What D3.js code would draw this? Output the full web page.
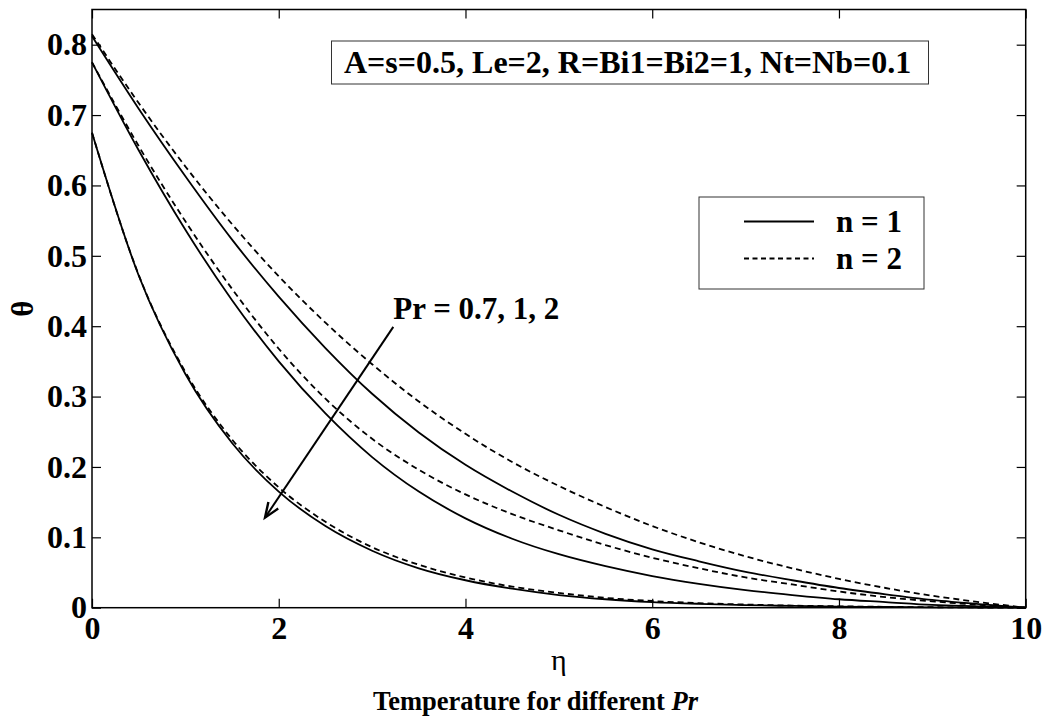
<!DOCTYPE html>
<html>
<head>
<meta charset="utf-8">
<script src="https://cdn.jsdelivr.net/npm/d3@7"></script>
<style>
  html, body { margin: 0; padding: 0; background: #fff; }
  svg text { font-family: "Liberation Serif", "Times New Roman", serif; }
</style>
</head>
<body>
<svg id="chart" width="1046" height="722"></svg>
<script>
// η grid shared by every profile
const eta = [0, 0.5, 1, 1.5, 2, 2.5, 3, 3.5, 4, 4.5, 5, 5.5, 6, 6.5, 7, 7.5, 8, 8.5, 9, 9.5, 10];

// θ(η) profiles, one array per (Pr, n) pair
const thetaPr07n1 = [0.812, 0.709, 0.613, 0.523, 0.442, 0.369, 0.304, 0.249, 0.203, 0.165, 0.132, 0.105, 0.083, 0.066, 0.051, 0.039, 0.028, 0.019, 0.011, 0.005, 0.0];
const thetaPr07n2 = [0.815, 0.717, 0.627, 0.545, 0.471, 0.405, 0.346, 0.293, 0.247, 0.207, 0.173, 0.143, 0.116, 0.093, 0.073, 0.056, 0.041, 0.028, 0.017, 0.008, 0.0];
const thetaPr1n1  = [0.775, 0.650, 0.537, 0.437, 0.350, 0.276, 0.214, 0.165, 0.127, 0.098, 0.076, 0.059, 0.045, 0.034, 0.025, 0.018, 0.012, 0.008, 0.004, 0.002, 0.0];
const thetaPr1n2  = [0.775, 0.656, 0.549, 0.453, 0.368, 0.297, 0.240, 0.196, 0.161, 0.133, 0.110, 0.089, 0.071, 0.056, 0.043, 0.033, 0.023, 0.015, 0.009, 0.004, 0.0];
const thetaPr2n1  = [0.675, 0.472, 0.332, 0.234, 0.165, 0.116, 0.081, 0.056, 0.039, 0.027, 0.018, 0.012, 0.008, 0.0055, 0.0037, 0.0025, 0.0016, 0.001, 0.0005, 0.0002, 0.0];
const thetaPr2n2  = [0.675, 0.473, 0.335, 0.239, 0.171, 0.122, 0.086, 0.061, 0.043, 0.030, 0.021, 0.014, 0.0095, 0.0065, 0.0045, 0.003, 0.002, 0.0012, 0.0007, 0.0003, 0.0];

const seriesNames = ["Pr=0.7, n=1", "Pr=0.7, n=2", "Pr=1, n=1", "Pr=1, n=2", "Pr=2, n=1", "Pr=2, n=2"];
const seriesValues = [thetaPr07n1, thetaPr07n2, thetaPr1n1, thetaPr1n2, thetaPr2n1, thetaPr2n2];
const seriesIndex = [1, 2, 1, 2, 1, 2];

// axis ticks
const xTicks = [0, 2, 4, 6, 8, 10];
const yTicks = [0, 0.1, 0.2, 0.3, 0.4, 0.5, 0.6, 0.7, 0.8];

// legend entries and annotations
const legendLabels = ["n = 1", "n = 2"];
const paramText = "A=s=0.5, Le=2, R=Bi1=Bi2=1, Nt=Nb=0.1";
const arrowLabel = "Pr = 0.7, 1, 2";
const arrowFrom = [3.227, 0.399];
const arrowTo = [1.853, 0.128];
const xLabel = "η";
const yLabel = "θ";
const captionMain = "Temperature for different ";
const captionItalic = "Pr";

// ---- layout ----
const W = 1046, H = 722;
const plot = { left: 92, right: 1025.7, top: 9.5, bottom: 607.7 };
const tickLen = 9;
const fontSize = 32;
const dashPattern = "6,4";

const svg = d3.select("#chart");
svg.append("rect").attr("width", W).attr("height", H).attr("fill", "#fff");

const x = d3.scaleLinear().domain([0, 10]).range([plot.left, plot.right]);
const y = d3.scaleLinear().domain([0, 0.85]).range([plot.bottom, plot.top]);

const fmtY = d => d === 0 ? "0" : d3.format(".1f")(d);

function styleAxis(g) {
  g.select(".domain").remove();
  g.selectAll(".tick line").attr("stroke", "#000").attr("stroke-width", 1.2);
  g.selectAll(".tick text")
    .attr("fill", "#000")
    .attr("font-size", fontSize)
    .attr("font-weight", "bold")
    .attr("font-family", "Liberation Serif, Times New Roman, serif");
}

svg.append("g")
  .attr("transform", `translate(0,${plot.bottom})`)
  .call(d3.axisBottom(x).tickValues(xTicks).tickSizeInner(-tickLen).tickSizeOuter(0).tickPadding(9).tickFormat(d3.format("d")))
  .call(styleAxis);

svg.append("g")
  .attr("transform", `translate(${plot.left},0)`)
  .call(d3.axisLeft(y).tickValues(yTicks).tickSizeInner(-tickLen).tickSizeOuter(0).tickPadding(5).tickFormat(fmtY))
  .call(styleAxis);

svg.append("g")
  .attr("transform", `translate(0,${plot.top})`)
  .call(d3.axisTop(x).tickValues(xTicks).tickSizeInner(-tickLen).tickSizeOuter(0).tickFormat(""))
  .call(styleAxis);

svg.append("g")
  .attr("transform", `translate(${plot.right},0)`)
  .call(d3.axisRight(y).tickValues(yTicks).tickSizeInner(-tickLen).tickSizeOuter(0).tickFormat(""))
  .call(styleAxis);

// plot frame
svg.append("rect")
  .attr("x", plot.left).attr("y", plot.top)
  .attr("width", plot.right - plot.left).attr("height", plot.bottom - plot.top)
  .attr("fill", "none").attr("stroke", "#000").attr("stroke-width", 1.5);

// profiles
const line = d3.line()
  .x((d, i) => x(eta[i]))
  .y(d => y(d))
  .curve(d3.curveMonotoneX);

svg.append("g").selectAll("path")
  .data(seriesValues)
  .join("path")
  .attr("d", d => line(d))
  .attr("fill", "none")
  .attr("stroke", "#000")
  .attr("stroke-width", 1.8)
  .attr("stroke-dasharray", (d, i) => seriesIndex[i] === 2 ? dashPattern : null);

// parameter box
const pbox = { x: 331.5, y: 41, w: 597, h: 43 };
svg.append("rect")
  .attr("x", pbox.x).attr("y", pbox.y).attr("width", pbox.w).attr("height", pbox.h)
  .attr("fill", "#fff").attr("stroke", "#333").attr("stroke-width", 1);
svg.append("text")
  .attr("x", 344).attr("y", 73)
  .attr("font-size", fontSize).attr("font-weight", "bold")
  .text(paramText);

// legend
const lbox = { x: 699, y: 197, w: 225, h: 92 };
svg.append("rect")
  .attr("x", lbox.x).attr("y", lbox.y).attr("width", lbox.w).attr("height", lbox.h)
  .attr("fill", "#fff").attr("stroke", "#333").attr("stroke-width", 1);
const legendRows = [221.5, 258.5];
legendLabels.forEach((lab, i) => {
  svg.append("line")
    .attr("x1", 744).attr("x2", 814)
    .attr("y1", legendRows[i]).attr("y2", legendRows[i])
    .attr("stroke", "#000").attr("stroke-width", 2)
    .attr("stroke-dasharray", i === 1 ? "5,3.5" : null);
  svg.append("text")
    .attr("x", 836).attr("y", legendRows[i] + 10)
    .attr("font-size", 31).attr("font-weight", "bold")
    .text(lab);
});

// Pr arrow
const ax1 = x(arrowFrom[0]), ay1 = y(arrowFrom[1]);
const ax2 = x(arrowTo[0]), ay2 = y(arrowTo[1]);
svg.append("line")
  .attr("x1", ax1).attr("y1", ay1).attr("x2", ax2).attr("y2", ay2)
  .attr("stroke", "#000").attr("stroke-width", 2);
const ang = Math.atan2(ay2 - ay1, ax2 - ax1);
const headLen = 16, headAng = 0.38;
const headPts = [
  [ax2 - headLen * Math.cos(ang - headAng), ay2 - headLen * Math.sin(ang - headAng)],
  [ax2, ay2],
  [ax2 - headLen * Math.cos(ang + headAng), ay2 - headLen * Math.sin(ang + headAng)]
];
svg.append("path")
  .attr("d", d3.line()(headPts))
  .attr("fill", "none").attr("stroke", "#000").attr("stroke-width", 2.4);
svg.append("text")
  .attr("x", ax1).attr("y", ay1 - 8)
  .attr("font-size", 31).attr("font-weight", "bold")
  .text(arrowLabel);

// axis titles
svg.append("text")
  .attr("x", (plot.left + plot.right) / 2).attr("y", 670)
  .attr("text-anchor", "middle")
  .attr("font-size", 30)
  .text(xLabel);

svg.append("text")
  .attr("transform", `translate(33,${(plot.top + plot.bottom) / 2}) rotate(-90)`)
  .attr("text-anchor", "middle")
  .attr("font-size", 31)
  .attr("font-weight", "bold")
  .text(yLabel);

// caption
const cap = svg.append("text")
  .attr("x", 373).attr("y", 710)
  .attr("font-size", 26.5).attr("font-weight", "bold");
cap.append("tspan").text(captionMain);
cap.append("tspan").attr("font-style", "italic").text(captionItalic);
</script>
</body>
</html>
